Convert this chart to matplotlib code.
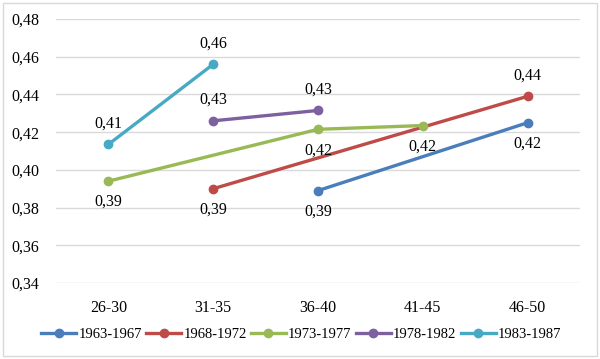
import numpy as np
import matplotlib
matplotlib.use('Agg')
import matplotlib.pyplot as plt
from matplotlib.patches import Rectangle

plt.rcParams['font.family'] = ['Liberation Serif', 'DejaVu Serif']

# data
age_groups = ['26-30', '31-35', '36-40', '41-45', '46-50']
cohorts = ['1963-1967', '1968-1972', '1973-1977', '1978-1982', '1983-1987']
nan = np.nan
values = {
	'1963-1967': [nan, nan, 0.389, nan, 0.425],
	'1968-1972': [nan, 0.390, nan, nan, 0.439],
	'1973-1977': [0.394, nan, 0.4215, 0.4235, nan],
	'1978-1982': [nan, 0.426, 0.4315, nan, nan],
	'1983-1987': [0.4135, 0.456, nan, nan, nan],
}
# label position for each point: 1 above, -1 below
label_side = {
	'1963-1967': [0, 0, -1, 0, -1],
	'1968-1972': [0, -1, 0, 0, 1],
	'1973-1977': [-1, 0, -1, -1, 0],
	'1978-1982': [0, 1, 1, 0, 0],
	'1983-1987': [1, 1, 0, 0, 0],
}
colors = ['#4A7EBB', '#BE4B48', '#98B954', '#7D60A0', '#46AAC5']
yticks = [0.34, 0.36, 0.38, 0.40, 0.42, 0.44, 0.46, 0.48]

def fmt(v):
	return ('%.2f' % v).replace('.', ',')

fig = plt.figure(figsize=(6, 3.59), dpi=100)
fig.patches.append(Rectangle((0.005, 0.008), 0.99, 0.985, transform=fig.transFigure,
	fill=False, edgecolor='#d9d9d9', linewidth=1))
ax = fig.add_axes([56 / 600, 1 - 283 / 359, 524 / 600, 264 / 359])

x = np.arange(len(age_groups))
for name, col in zip(cohorts, colors):
	y = np.array(values[name], dtype=float)
	m = ~np.isnan(y)
	ax.plot(x[m], y[m], color=col, linewidth=2.4, marker='o', markersize=6, label=name)
	for xi, yi, side in zip(x, y, label_side[name]):
		if side == 0 or np.isnan(yi):
			continue
		ax.annotate(fmt(yi), (xi, yi), xytext=(0, 15 * side), textcoords='offset points',
			ha='center', va='center', fontsize=11.5, color='#000000')

ax.set_xlim(-0.5, len(age_groups) - 0.5)
ax.set_ylim(0.34, 0.48)
ax.set_xticks(x)
ax.set_xticklabels(age_groups, fontsize=11.5)
ax.set_yticks(yticks)
ax.set_yticklabels([fmt(t) for t in yticks], fontsize=11.5)
ax.tick_params(axis='both', length=0)
ax.tick_params(axis='x', pad=12)
ax.tick_params(axis='y', pad=12)
ax.grid(axis='y', color='#d9d9d9', linewidth=1)
ax.set_axisbelow(True)
for s in ax.spines.values():
	s.set_visible(False)

fig.legend(loc='center', bbox_to_anchor=(0.502, 1 - 334 / 359), ncol=5, frameon=False,
	fontsize=10.5, handlelength=2.4, handletextpad=0.15, columnspacing=0.3)

fig.savefig('out.png', dpi=100)
